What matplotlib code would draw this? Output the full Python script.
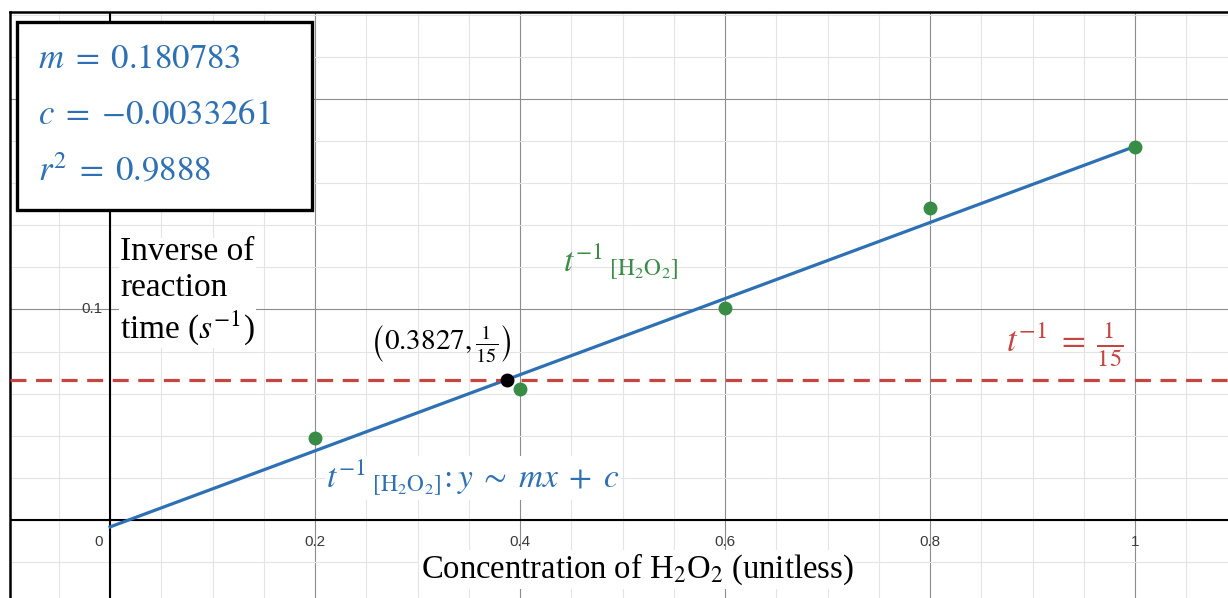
import numpy as np
import matplotlib
matplotlib.use("Agg")
import matplotlib.pyplot as plt
from matplotlib.patches import Rectangle

plt.rcParams['mathtext.fontset'] = 'stix'
plt.rcParams['font.family'] = ['Liberation Serif', 'DejaVu Serif']

# data
conc = [0.2, 0.4, 0.6, 0.8, 1.0]
inv_time = [0.039, 0.0622, 0.1007, 0.1482, 0.1772]
m = 0.180783
c = -0.0033261
r2 = 0.9888
target = 1 / 15
xticks_lab = [0.2, 0.4, 0.6, 0.8, 1]
xtick_txt = ['0.2', '0.4', '0.6', '0.8', '1']
yticks_lab = [0.1]
ytick_txt = ['0.1']

BLUE = '#2d70b3'
GREEN = '#388c46'
RED = '#c74440'

W, H = 1228, 598
fig = plt.figure(figsize=(W / 100, H / 100), dpi=100)
ax = fig.add_axes([10 / W, 0, 1218 / W, 586 / H])

# desmos style grid
ax.set_xticks(np.arange(-0.2, 1.21, 0.2))
ax.set_xticks(np.arange(-0.1, 1.11, 0.05), minor=True)
ax.set_yticks(np.arange(-0.1, 0.31, 0.1))
ax.set_yticks(np.arange(-0.04, 0.26, 0.02), minor=True)
ax.set_xlim(-0.0976, 1.0907)
ax.set_ylim(-0.0371, 0.2413)
ax.grid(which='major', color='#8c8c8c', lw=0.8, zorder=0)
ax.grid(which='minor', color='#e4e4e4', lw=0.8, zorder=0)
ax.set_axisbelow(True)
ax.tick_params(which='both', length=0, labelbottom=False, labelleft=False)
for s in ['right', 'bottom']:
    ax.spines[s].set_visible(False)
for s in ['left', 'top']:
    ax.spines[s].set_linewidth(1.8)
    ax.spines[s].set_color('black')
ax.axhline(0, color='black', lw=1.5, zorder=1)
ax.axvline(0, color='black', lw=1.5, zorder=1)

# tick labels
tfont = dict(family='Liberation Sans', fontsize=11, color='#3a3a3a')
ax.text(-0.011, -0.0072, '0', ha='center', va='top', **tfont)
for xv, t in zip(xticks_lab, xtick_txt):
    ax.text(xv, -0.0072, t, ha='center', va='top', **tfont)
for yv, t in zip(yticks_lab, ytick_txt):
    ax.text(-0.007, yv, t, ha='right', va='center', **tfont)

# fit line, threshold and data
xs = np.array([0, 1])
ax.plot(xs, m * xs + c, color=BLUE, lw=2.3, zorder=3)
ax.axhline(target, color=RED, lw=2.3, ls=(0, (5, 3)), zorder=3)
ax.plot(conc, inv_time, 'o', color=GREEN, ms=9, zorder=4)
x_int = (target - c) / m
ax.plot([x_int], [target], 'o', color='black', ms=9, zorder=5)

# labels
ax.text(0.442, 0.1178, r"${t^{-1}}_{\;[\mathrm{H_2O_2}]}$", color=GREEN,
        fontsize=24, ha='left', va='baseline', zorder=6)
ax.text(0.211, 0.0152, r"${t^{-1}}_{\;[\mathrm{H_2O_2}]}\!:y\;\sim\;mx\;+\;c$",
        color=BLUE, fontsize=24, ha='left', va='baseline', zorder=6,
        bbox=dict(fc='white', ec='none', pad=1))
ax.text(0.874, 0.0795, r"$t^{-1}\;=\;\frac{1}{15}$", color=RED,
        fontsize=25, ha='left', va='baseline', zorder=6)
ax.text(0.254, 0.0835, r"$\left(0.3827,\frac{1}{15}\right)$", color='black',
        fontsize=21, ha='left', va='center', zorder=6)

ax.text(0.0098, 0.1345, "Inverse of\nreaction\ntime ($s^{-1}$)", fontsize=24,
        ha='left', va='top', linespacing=1.2, zorder=6,
        bbox=dict(fc='white', ec='none', pad=1))
ax.text(0.514, -0.0276, "Concentration of H$_2$O$_2$ (unitless)", fontsize=23.5,
        ha='center', va='baseline', zorder=6,
        bbox=dict(fc='white', ec='none', pad=1))

# regression box
fig.patches.append(Rectangle((17 / W, 1 - 210 / H), 295 / W, 188 / H,
                             transform=fig.transFigure, fc='white', ec='black',
                             lw=2.4, zorder=10))
box_lines = [r"$m\;=\;%s$" % m,
             r"$c\;=\;%s$" % str(c).replace('-', '{-}'),
             r"$r^2\;=\;%s$" % r2]
for i, line in enumerate(box_lines):
    fig.text(38 / W, 1 - (68 + 56 * i) / H, line,
             color=BLUE, fontsize=25, ha='left', va='baseline', zorder=11)

fig.savefig('out.png', dpi=100)
